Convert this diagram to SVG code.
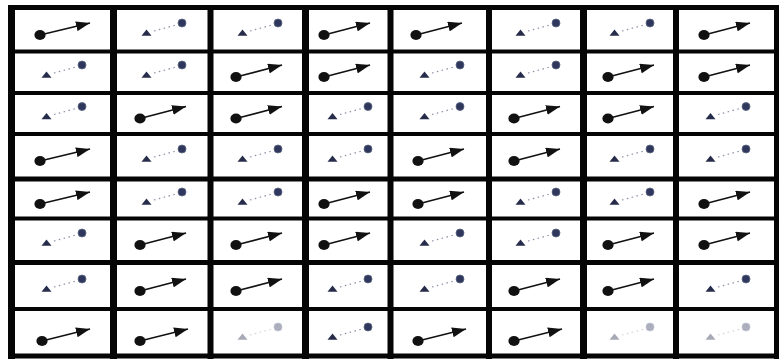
<svg xmlns="http://www.w3.org/2000/svg" xmlns:xlink="http://www.w3.org/1999/xlink" width="781" height="359" viewBox="0 0 781 359">
<style>
.grid rect{fill:#050505}
.solid{stroke:#111;stroke-width:1.7;fill:none}
.dotted{stroke:#8a90a6;stroke-width:1.2;stroke-dasharray:1.5 3.5;fill:none}
.faint{opacity:.4}
</style>
<defs>
<marker id="head" viewBox="0 0 14 10" refX="14" refY="5" markerWidth="14" markerHeight="10" markerUnits="userSpaceOnUse" orient="auto">
<path d="M0,0 L14,5 L0,10 z" fill="#111"/>
</marker>
<ellipse id="dotA" cx="0" cy="0" rx="5.6" ry="5" fill="#111"/>
<polygon id="triB" points="-5.5,2.8 4.5,2.8 -0.5,-3.5" fill="#262c4a"/>
<circle id="ringB" cx="0" cy="0" r="4" fill="#2f385c" stroke="#5a6482" stroke-width="0.8"/>
</defs>
<rect width="781" height="359" fill="#fff"/>
<g class="grid" id="grid">
<rect x="8" y="5" width="7" height="354"/>
<rect x="110" y="5" width="7" height="354"/>
<rect x="207.5" y="5" width="6" height="354"/>
<rect x="302" y="5" width="7" height="354"/>
<rect x="387.5" y="5" width="6" height="354"/>
<rect x="486" y="5" width="6" height="354"/>
<rect x="580" y="5" width="7" height="354"/>
<rect x="673" y="5" width="6" height="354"/>
<rect x="774" y="5" width="5" height="354"/>
<rect x="8" y="5" width="771" height="5"/>
<rect x="8" y="49.5" width="771" height="4"/>
<rect x="8" y="91" width="771" height="4"/>
<rect x="8" y="132" width="771" height="4"/>
<rect x="8" y="176.5" width="771" height="5"/>
<rect x="8" y="216.5" width="771" height="4"/>
<rect x="8" y="260" width="771" height="5"/>
<rect x="8" y="307" width="771" height="4"/>
<rect x="8" y="353.5" width="771" height="5"/>
</g>
<g id="connectors">
<line class="solid" transform="translate(62,30)" x1="-22" y1="5" x2="28" y2="-7" marker-end="url(#head)"/>
<line class="dotted" transform="translate(162,30)" x1="-8" y1="1" x2="16" y2="-5.5"/>
<line class="dotted" transform="translate(258,30)" x1="-8" y1="1" x2="16" y2="-5.5"/>
<line class="solid" transform="translate(348,30)" x1="-24" y1="5" x2="22" y2="-7" marker-end="url(#head)"/>
<line class="solid" transform="translate(440,30)" x1="-24" y1="5" x2="22" y2="-7" marker-end="url(#head)"/>
<line class="dotted" transform="translate(536,30)" x1="-8" y1="1" x2="16" y2="-5.5"/>
<line class="dotted" transform="translate(630,30)" x1="-8" y1="1" x2="16" y2="-5.5"/>
<line class="solid" transform="translate(726,30)" x1="-22" y1="5" x2="24" y2="-7" marker-end="url(#head)"/>

<line class="dotted" transform="translate(62,72)" x1="-8" y1="1" x2="16" y2="-5.5"/>
<line class="dotted" transform="translate(162,72)" x1="-8" y1="1" x2="16" y2="-5.5"/>
<line class="solid" transform="translate(258,72)" x1="-22" y1="5" x2="24" y2="-7" marker-end="url(#head)"/>
<line class="solid" transform="translate(348,72)" x1="-24" y1="5" x2="22" y2="-7" marker-end="url(#head)"/>
<line class="dotted" transform="translate(440,72)" x1="-8" y1="1" x2="16" y2="-5.5"/>
<line class="dotted" transform="translate(536,72)" x1="-8" y1="1" x2="16" y2="-5.5"/>
<line class="solid" transform="translate(630,72)" x1="-22" y1="5" x2="24" y2="-7" marker-end="url(#head)"/>
<line class="solid" transform="translate(726,72)" x1="-22" y1="5" x2="24" y2="-7" marker-end="url(#head)"/>

<line class="dotted" transform="translate(62,113.5)" x1="-8" y1="1" x2="16" y2="-5.5"/>
<line class="solid" transform="translate(162,113.5)" x1="-22" y1="5" x2="24" y2="-7" marker-end="url(#head)"/>
<line class="solid" transform="translate(258,113.5)" x1="-22" y1="5" x2="24" y2="-7" marker-end="url(#head)"/>
<line class="dotted" transform="translate(348,113.5)" x1="-8" y1="1" x2="16" y2="-5.5"/>
<line class="dotted" transform="translate(440,113.5)" x1="-8" y1="1" x2="16" y2="-5.5"/>
<line class="solid" transform="translate(536,113.5)" x1="-22" y1="5" x2="24" y2="-7" marker-end="url(#head)"/>
<line class="solid" transform="translate(630,113.5)" x1="-22" y1="5" x2="24" y2="-7" marker-end="url(#head)"/>
<line class="dotted" transform="translate(726,113.5)" x1="-8" y1="1" x2="16" y2="-5.5"/>

<line class="solid" transform="translate(62,156)" x1="-22" y1="5" x2="28" y2="-7" marker-end="url(#head)"/>
<line class="dotted" transform="translate(162,156)" x1="-8" y1="1" x2="16" y2="-5.5"/>
<line class="dotted" transform="translate(258,156)" x1="-8" y1="1" x2="16" y2="-5.5"/>
<line class="dotted" transform="translate(348,156)" x1="-8" y1="1" x2="16" y2="-5.5"/>
<line class="solid" transform="translate(440,156)" x1="-22" y1="5" x2="24" y2="-7" marker-end="url(#head)"/>
<line class="solid" transform="translate(536,156)" x1="-22" y1="5" x2="24" y2="-7" marker-end="url(#head)"/>
<line class="dotted" transform="translate(630,156)" x1="-8" y1="1" x2="16" y2="-5.5"/>
<line class="dotted" transform="translate(726,156)" x1="-8" y1="1" x2="16" y2="-5.5"/>

<line class="solid" transform="translate(62,199)" x1="-22" y1="5" x2="28" y2="-7" marker-end="url(#head)"/>
<line class="dotted" transform="translate(162,199)" x1="-8" y1="1" x2="16" y2="-5.5"/>
<line class="dotted" transform="translate(258,199)" x1="-8" y1="1" x2="16" y2="-5.5"/>
<line class="solid" transform="translate(348,199)" x1="-24" y1="5" x2="22" y2="-7" marker-end="url(#head)"/>
<line class="solid" transform="translate(440,199)" x1="-22" y1="5" x2="24" y2="-7" marker-end="url(#head)"/>
<line class="dotted" transform="translate(536,199)" x1="-8" y1="1" x2="16" y2="-5.5"/>
<line class="dotted" transform="translate(630,199)" x1="-8" y1="1" x2="16" y2="-5.5"/>
<line class="solid" transform="translate(726,199)" x1="-22" y1="5" x2="24" y2="-7" marker-end="url(#head)"/>

<line class="dotted" transform="translate(62,240)" x1="-8" y1="1" x2="16" y2="-5.5"/>
<line class="solid" transform="translate(162,240)" x1="-22" y1="5" x2="24" y2="-7" marker-end="url(#head)"/>
<line class="solid" transform="translate(258,240)" x1="-22" y1="5" x2="24" y2="-7" marker-end="url(#head)"/>
<line class="solid" transform="translate(348,240)" x1="-24" y1="5" x2="22" y2="-7" marker-end="url(#head)"/>
<line class="dotted" transform="translate(440,240)" x1="-8" y1="1" x2="16" y2="-5.5"/>
<line class="dotted" transform="translate(536,240)" x1="-8" y1="1" x2="16" y2="-5.5"/>
<line class="solid" transform="translate(630,240)" x1="-22" y1="5" x2="24" y2="-7" marker-end="url(#head)"/>
<line class="solid" transform="translate(726,240)" x1="-22" y1="5" x2="24" y2="-7" marker-end="url(#head)"/>

<line class="dotted" transform="translate(62,286)" x1="-8" y1="1" x2="16" y2="-5.5"/>
<line class="solid" transform="translate(162,286)" x1="-22" y1="5" x2="24" y2="-7" marker-end="url(#head)"/>
<line class="solid" transform="translate(258,286)" x1="-22" y1="5" x2="24" y2="-7" marker-end="url(#head)"/>
<line class="dotted" transform="translate(348,286)" x1="-8" y1="1" x2="16" y2="-5.5"/>
<line class="dotted" transform="translate(440,286)" x1="-8" y1="1" x2="16" y2="-5.5"/>
<line class="solid" transform="translate(536,286)" x1="-22" y1="5" x2="24" y2="-7" marker-end="url(#head)"/>
<line class="solid" transform="translate(630,286)" x1="-22" y1="5" x2="24" y2="-7" marker-end="url(#head)"/>
<line class="dotted" transform="translate(726,286)" x1="-8" y1="1" x2="16" y2="-5.5"/>

<line class="solid" transform="translate(62,334)" x1="-20" y1="7" x2="28" y2="-5" marker-end="url(#head)"/>
<line class="solid" transform="translate(162,334)" x1="-22" y1="7" x2="26" y2="-5" marker-end="url(#head)"/>
<line class="dotted faint" transform="translate(258,334)" x1="-8" y1="1" x2="16" y2="-5.5"/>
<line class="dotted" transform="translate(348,334)" x1="-8" y1="1" x2="16" y2="-5.5"/>
<line class="solid" transform="translate(440,334)" x1="-22" y1="7" x2="26" y2="-5" marker-end="url(#head)"/>
<line class="solid" transform="translate(536,334)" x1="-22" y1="7" x2="26" y2="-5" marker-end="url(#head)"/>
<line class="dotted faint" transform="translate(630,334)" x1="-8" y1="1" x2="16" y2="-5.5"/>
<line class="dotted faint" transform="translate(726,334)" x1="-8" y1="1" x2="16" y2="-5.5"/>
</g>

<g id="r1c1" transform="translate(62,30)"><use href="#dotA" x="-22" y="5"/></g>
<g id="r1c2" transform="translate(162,30)"><use href="#triB" x="-15" y="3"/><use href="#ringB" x="20" y="-7"/></g>
<g id="r1c3" transform="translate(258,30)"><use href="#triB" x="-15" y="3"/><use href="#ringB" x="20" y="-7"/></g>
<g id="r1c4" transform="translate(348,30)"><use href="#dotA" x="-24" y="5"/></g>
<g id="r1c5" transform="translate(440,30)"><use href="#dotA" x="-24" y="5"/></g>
<g id="r1c6" transform="translate(536,30)"><use href="#triB" x="-15" y="3"/><use href="#ringB" x="20" y="-7"/></g>
<g id="r1c7" transform="translate(630,30)"><use href="#triB" x="-15" y="3"/><use href="#ringB" x="20" y="-7"/></g>
<g id="r1c8" transform="translate(726,30)"><use href="#dotA" x="-22" y="5"/></g>

<g id="r2c1" transform="translate(62,72)"><use href="#triB" x="-15" y="3"/><use href="#ringB" x="20" y="-7"/></g>
<g id="r2c2" transform="translate(162,72)"><use href="#triB" x="-15" y="3"/><use href="#ringB" x="20" y="-7"/></g>
<g id="r2c3" transform="translate(258,72)"><use href="#dotA" x="-22" y="5"/></g>
<g id="r2c4" transform="translate(348,72)"><use href="#dotA" x="-24" y="5"/></g>
<g id="r2c5" transform="translate(440,72)"><use href="#triB" x="-15" y="3"/><use href="#ringB" x="20" y="-7"/></g>
<g id="r2c6" transform="translate(536,72)"><use href="#triB" x="-15" y="3"/><use href="#ringB" x="20" y="-7"/></g>
<g id="r2c7" transform="translate(630,72)"><use href="#dotA" x="-22" y="5"/></g>
<g id="r2c8" transform="translate(726,72)"><use href="#dotA" x="-22" y="5"/></g>

<g id="r3c1" transform="translate(62,113.5)"><use href="#triB" x="-15" y="3"/><use href="#ringB" x="20" y="-7"/></g>
<g id="r3c2" transform="translate(162,113.5)"><use href="#dotA" x="-22" y="5"/></g>
<g id="r3c3" transform="translate(258,113.5)"><use href="#dotA" x="-22" y="5"/></g>
<g id="r3c4" transform="translate(348,113.5)"><use href="#triB" x="-15" y="3"/><use href="#ringB" x="20" y="-7"/></g>
<g id="r3c5" transform="translate(440,113.5)"><use href="#triB" x="-15" y="3"/><use href="#ringB" x="20" y="-7"/></g>
<g id="r3c6" transform="translate(536,113.5)"><use href="#dotA" x="-22" y="5"/></g>
<g id="r3c7" transform="translate(630,113.5)"><use href="#dotA" x="-22" y="5"/></g>
<g id="r3c8" transform="translate(726,113.5)"><use href="#triB" x="-15" y="3"/><use href="#ringB" x="20" y="-7"/></g>

<g id="r4c1" transform="translate(62,156)"><use href="#dotA" x="-22" y="5"/></g>
<g id="r4c2" transform="translate(162,156)"><use href="#triB" x="-15" y="3"/><use href="#ringB" x="20" y="-7"/></g>
<g id="r4c3" transform="translate(258,156)"><use href="#triB" x="-15" y="3"/><use href="#ringB" x="20" y="-7"/></g>
<g id="r4c4" transform="translate(348,156)"><use href="#triB" x="-15" y="3"/><use href="#ringB" x="20" y="-7"/></g>
<g id="r4c5" transform="translate(440,156)"><use href="#dotA" x="-22" y="5"/></g>
<g id="r4c6" transform="translate(536,156)"><use href="#dotA" x="-22" y="5"/></g>
<g id="r4c7" transform="translate(630,156)"><use href="#triB" x="-15" y="3"/><use href="#ringB" x="20" y="-7"/></g>
<g id="r4c8" transform="translate(726,156)"><use href="#triB" x="-15" y="3"/><use href="#ringB" x="20" y="-7"/></g>

<g id="r5c1" transform="translate(62,199)"><use href="#dotA" x="-22" y="5"/></g>
<g id="r5c2" transform="translate(162,199)"><use href="#triB" x="-15" y="3"/><use href="#ringB" x="20" y="-7"/></g>
<g id="r5c3" transform="translate(258,199)"><use href="#triB" x="-15" y="3"/><use href="#ringB" x="20" y="-7"/></g>
<g id="r5c4" transform="translate(348,199)"><use href="#dotA" x="-24" y="5"/></g>
<g id="r5c5" transform="translate(440,199)"><use href="#dotA" x="-22" y="5"/></g>
<g id="r5c6" transform="translate(536,199)"><use href="#triB" x="-15" y="3"/><use href="#ringB" x="20" y="-7"/></g>
<g id="r5c7" transform="translate(630,199)"><use href="#triB" x="-15" y="3"/><use href="#ringB" x="20" y="-7"/></g>
<g id="r5c8" transform="translate(726,199)"><use href="#dotA" x="-22" y="5"/></g>

<g id="r6c1" transform="translate(62,240)"><use href="#triB" x="-15" y="3"/><use href="#ringB" x="20" y="-7"/></g>
<g id="r6c2" transform="translate(162,240)"><use href="#dotA" x="-22" y="5"/></g>
<g id="r6c3" transform="translate(258,240)"><use href="#dotA" x="-22" y="5"/></g>
<g id="r6c4" transform="translate(348,240)"><use href="#dotA" x="-24" y="5"/></g>
<g id="r6c5" transform="translate(440,240)"><use href="#triB" x="-15" y="3"/><use href="#ringB" x="20" y="-7"/></g>
<g id="r6c6" transform="translate(536,240)"><use href="#triB" x="-15" y="3"/><use href="#ringB" x="20" y="-7"/></g>
<g id="r6c7" transform="translate(630,240)"><use href="#dotA" x="-22" y="5"/></g>
<g id="r6c8" transform="translate(726,240)"><use href="#dotA" x="-22" y="5"/></g>

<g id="r7c1" transform="translate(62,286)"><use href="#triB" x="-15" y="3"/><use href="#ringB" x="20" y="-7"/></g>
<g id="r7c2" transform="translate(162,286)"><use href="#dotA" x="-22" y="5"/></g>
<g id="r7c3" transform="translate(258,286)"><use href="#dotA" x="-22" y="5"/></g>
<g id="r7c4" transform="translate(348,286)"><use href="#triB" x="-15" y="3"/><use href="#ringB" x="20" y="-7"/></g>
<g id="r7c5" transform="translate(440,286)"><use href="#triB" x="-15" y="3"/><use href="#ringB" x="20" y="-7"/></g>
<g id="r7c6" transform="translate(536,286)"><use href="#dotA" x="-22" y="5"/></g>
<g id="r7c7" transform="translate(630,286)"><use href="#dotA" x="-22" y="5"/></g>
<g id="r7c8" transform="translate(726,286)"><use href="#triB" x="-15" y="3"/><use href="#ringB" x="20" y="-7"/></g>

<g id="r8c1" transform="translate(62,334)"><use href="#dotA" x="-20" y="7"/></g>
<g id="r8c2" transform="translate(162,334)"><use href="#dotA" x="-22" y="7"/></g>
<g id="r8c3" class="faint" transform="translate(258,334)"><use href="#triB" x="-15" y="3"/><use href="#ringB" x="20" y="-7"/></g>
<g id="r8c4" transform="translate(348,334)"><use href="#triB" x="-15" y="3"/><use href="#ringB" x="20" y="-7"/></g>
<g id="r8c5" transform="translate(440,334)"><use href="#dotA" x="-22" y="7"/></g>
<g id="r8c6" transform="translate(536,334)"><use href="#dotA" x="-22" y="7"/></g>
<g id="r8c7" class="faint" transform="translate(630,334)"><use href="#triB" x="-15" y="3"/><use href="#ringB" x="20" y="-7"/></g>
<g id="r8c8" class="faint" transform="translate(726,334)"><use href="#triB" x="-15" y="3"/><use href="#ringB" x="20" y="-7"/></g>
</svg>
